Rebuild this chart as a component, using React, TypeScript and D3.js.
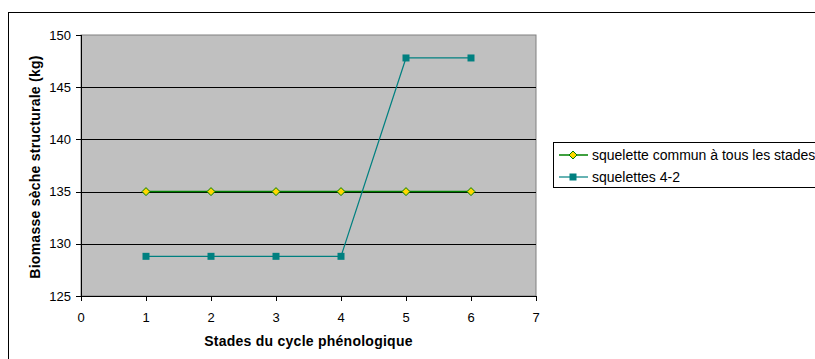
import React from "react";
import * as d3 from "d3";

const stages = [1, 2, 3, 4, 5, 6];
const commonSkeleton = [135, 135, 135, 135, 135, 135];
const skeletons42 = [128.8, 128.8, 128.8, 128.8, 147.8, 147.8];
const seriesNames = ["squelette commun à tous les stades", "squelettes 4-2"];
const xTicks = [0, 1, 2, 3, 4, 5, 6, 7];
const yTicks = [125, 130, 135, 140, 145, 150];

const W = 815, H = 359;
const plot = { left: 81, top: 35, right: 536, bottom: 296 };
const font = "'Liberation Sans', Arial, sans-serif";

export default function App() {
  const x = d3.scaleLinear().domain([0, 7]).range([plot.left, plot.right]);
  const y = d3.scaleLinear().domain([125, 150]).range([plot.bottom, plot.top]);
  const line = d3.line<number>().x((_, i) => x(stages[i])).y((v) => y(v));

  const diamond = (cx: number, cy: number, r = 4) =>
    `M${cx},${cy - r}L${cx + r},${cy}L${cx},${cy + r}L${cx - r},${cy}Z`;

  return (
    <svg width={W} height={H} style={{ position: "absolute", left: 0, top: 0, background: "#fff" }} fontFamily={font}>
      <rect x={8.5} y={12.5} width={900} height={400} fill="#fff" stroke="#000" strokeWidth={1} />
      <rect x={plot.left} y={plot.top} width={plot.right - plot.left} height={plot.bottom - plot.top} fill="#C0C0C0" stroke="#808080" strokeWidth={1} />
      {yTicks.filter((t) => t !== 125 && t !== 150).map((t) => (
        <line key={t} x1={plot.left} x2={plot.right} y1={Math.round(y(t)) + 0.5} y2={Math.round(y(t)) + 0.5} stroke="#000" strokeWidth={1} />
      ))}
      {/* axes */}
      <line x1={plot.left + 0.5} x2={plot.left + 0.5} y1={plot.top} y2={plot.bottom} stroke="#000" />
      <line x1={plot.left} x2={plot.right} y1={plot.bottom + 0.5} y2={plot.bottom + 0.5} stroke="#000" />
      {yTicks.map((t) => (
        <g key={t}>
          <line x1={plot.left - 5} x2={plot.left} y1={Math.round(y(t)) + 0.5} y2={Math.round(y(t)) + 0.5} stroke="#000" />
          <text x={plot.left - 10} y={y(t)} dy="0.35em" textAnchor="end" fontSize={13} fill="#000">{t}</text>
        </g>
      ))}
      {xTicks.map((t) => (
        <g key={t}>
          <line x1={Math.round(x(t)) + 0.5} x2={Math.round(x(t)) + 0.5} y1={plot.bottom} y2={plot.bottom + 5} stroke="#000" />
          <text x={x(t)} y={plot.bottom + 26} textAnchor="middle" fontSize={13} fill="#000">{t}</text>
        </g>
      ))}
      <text x={(plot.left + plot.right) / 2} y={346} textAnchor="middle" fontSize={14} fontWeight="bold" letterSpacing={0.25}>Stades du cycle phénologique</text>
      <text transform={`translate(40,${167}) rotate(-90)`} textAnchor="middle" fontSize={14} fontWeight="bold" letterSpacing={0.25}>Biomasse sèche structurale (kg)</text>

      {/* series 1 */}
      <path d={line(commonSkeleton) || ""} fill="none" stroke="#008000" strokeWidth={1.5} />
      {commonSkeleton.map((v, i) => (
        <path key={i} d={diamond(x(stages[i]), y(v))} fill="#FFD700" stroke="#008000" strokeWidth={1} />
      ))}
      {/* series 2 */}
      <path d={line(skeletons42) || ""} fill="none" stroke="#008080" strokeWidth={1.2} />
      {skeletons42.map((v, i) => (
        <rect key={i} x={x(stages[i]) - 3.5} y={y(v) - 3.5} width={7} height={7} fill="#008080" />
      ))}

      {/* legend */}
      <rect x={553.5} y={142.5} width={300} height={45} fill="#fff" stroke="#000" />
      <line x1={559} x2={588} y1={155} y2={155} stroke="#008000" strokeWidth={1.5} />
      <path d={diamond(573, 155)} fill="#FFD700" stroke="#008000" />
      <text x={592} y={155} dy="0.35em" fontSize={14}>{seriesNames[0]}</text>
      <line x1={559} x2={588} y1={177} y2={177} stroke="#008080" strokeWidth={1.2} />
      <rect x={569.5} y={173.5} width={7} height={7} fill="#008080" />
      <text x={592} y={177} dy="0.35em" fontSize={14}>{seriesNames[1]}</text>
    </svg>
  );
}
